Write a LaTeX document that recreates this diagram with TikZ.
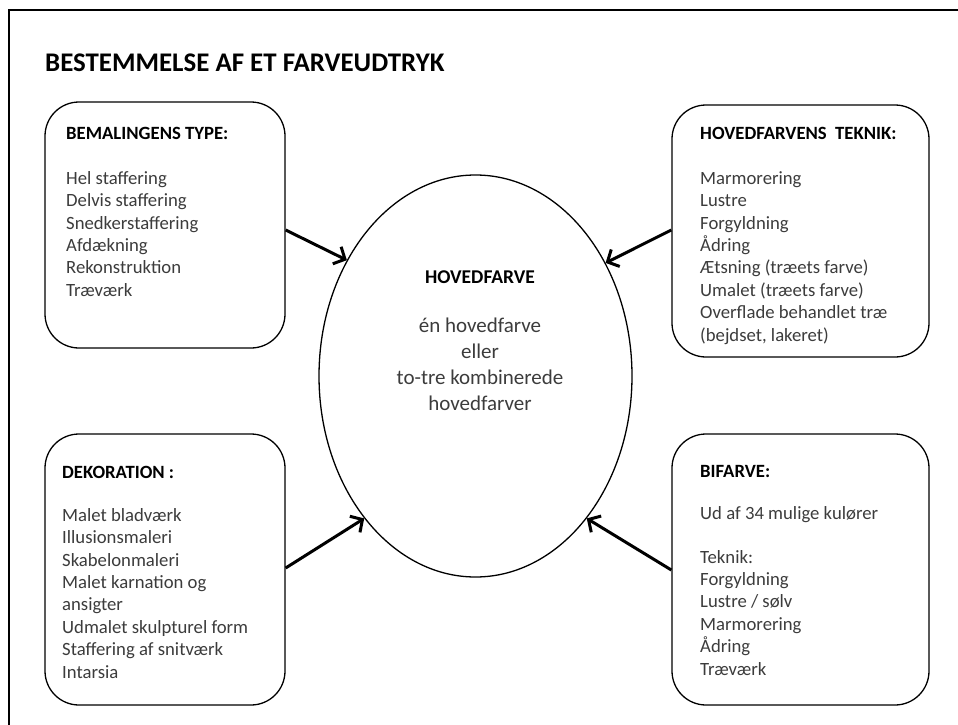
\documentclass[tikz,border=0pt]{standalone}
\usepackage{fontspec}
\setmainfont{Carlito}
\usetikzlibrary{shapes.geometric,arrows.meta,calc}
\definecolor{bodytext}{HTML}{3C3C3C}
\tikzset{
  box/.style={draw=black, line width=1.3pt, rounded corners=34pt, fill=white, inner sep=0pt},
  bodytxt/.style={anchor=north west, inner sep=0pt, align=left, text=bodytext,
    font=\fontsize{18.7pt}{22.4pt}\selectfont},
  ellbody/.style={inner sep=0pt, align=center, text=bodytext,
    font=\fontsize{21pt}{26pt}\selectfont},
  conn/.style={line width=3pt, -{Straight Barb[length=9pt,width=19pt,line width=3pt]}},
  frame/.style={line width=2pt, draw=black}
}
\begin{document}
\begin{tikzpicture}[x=1pt,y=-1pt]
\useasboundingbox (0,0) rectangle (958,725);
% outer frame (right and bottom cut off)
\coordinate (fbl) at (9,726);
\coordinate (ftl) at (9,10);
\coordinate (ftr) at (959,10);
\draw[frame] (fbl) -- (ftl) -- (ftr);

% title
\node[anchor=base west, inner sep=0pt, font=\fontsize{26.9pt}{32pt}\selectfont\bfseries] (title) at (45,71) {BESTEMMELSE AF ET FARVEUDTRYK};

% boxes
\node[box, minimum width=240pt, minimum height=246pt] (tl) at (165,225) {};
\node[box, minimum width=257pt, minimum height=252pt] (tr) at (800.5,231) {};
\node[box, minimum width=240pt, minimum height=271pt] (bl) at (165,569.5) {};
\node[box, minimum width=257pt, minimum height=271pt] (br) at (800.5,569.5) {};

% ellipse
\node[ellipse, draw=black, line width=1.3pt, minimum width=313pt, minimum height=402pt, inner sep=0pt] (ell) at (475.5,376) {};

% box texts
\node[bodytxt] (tltext) at (66,127) {\textcolor{black}{\bfseries BEMALINGENS TYPE:}\\[22.4pt]
Hel staffering\\ Delvis staffering\\ Snedkerstaffering\\ Afdækning\\ Rekonstruktion\\ Træværk};

\node[bodytxt] (trtext) at (700,127) {\textcolor{black}{\bfseries HOVEDFARVENS\ \ TEKNIK:}\\[22.4pt]
Marmorering\\ Lustre\\ Forgyldning\\ Ådring\\ Ætsning (træets farve)\\ Umalet (træets farve)\\ Overflade behandlet træ\\ (bejdset, lakeret)};

\node[bodytxt] (bltext) at (62,466) {\textcolor{black}{\bfseries DEKORATION :}\\[20.5pt]
Malet bladværk\\ Illusionsmaleri\\ Skabelonmaleri\\ Malet karnation og\\ ansigter\\ Udmalet skulpturel form\\ Staffering af snitværk\\ Intarsia};

\node[bodytxt] (brtext) at (700,465) {\textcolor{black}{\bfseries BIFARVE:}\\[20pt]
Ud af 34 mulige kulører\\[21pt]
Teknik:\\ Forgyldning\\ Lustre / sølv\\ Marmorering\\ Ådring\\ Træværk};

% ellipse texts
\node[inner sep=0pt, anchor=base, font=\fontsize{19.5pt}{24pt}\selectfont\bfseries] (ehead) at (480,283) {HOVEDFARVE};
\node[ellbody, anchor=north] (ebody) at (480,318) {én hovedfarve\\ eller\\ to-tre kombinerede\\ hovedfarver};

% connectors
\draw[conn] ($(tl.east)+(0,5)$) -- (ell.138.4);
\draw[conn] ($(tr.west)+(0,-1)$) -- (ell.41.4);
\draw[conn] ($(bl.east)+(0,-1.5)$) -- (ell.232.1);
\draw[conn] ($(br.west)+(0,0.5)$) -- (ell.308.4);
\end{tikzpicture}
\end{document}
